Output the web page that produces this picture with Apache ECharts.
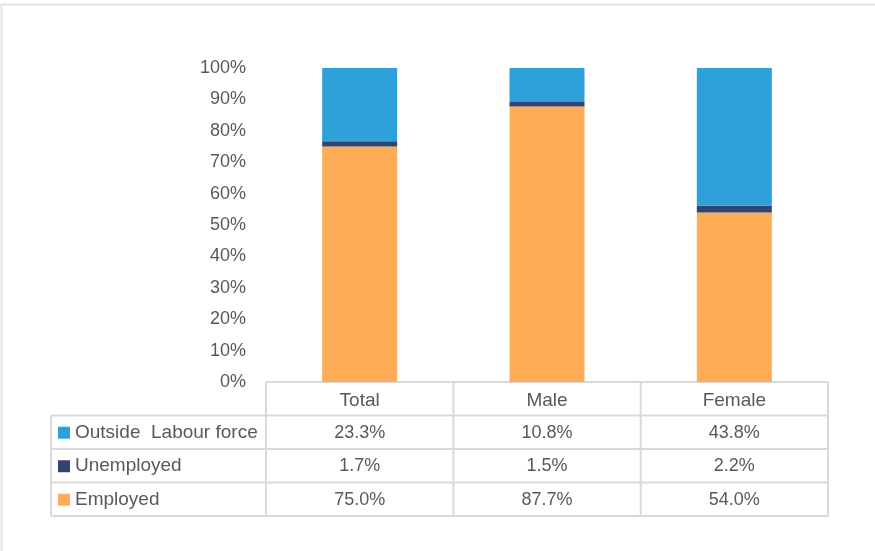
<!DOCTYPE html>
<html>
<head>
<meta charset="utf-8">
<title>Labour force status by sex</title>
<script src="https://cdn.jsdelivr.net/npm/echarts@6/dist/echarts.min.js"></script>
<style>
  html, body { margin: 0; padding: 0; background: #fff; }
  #chart { width: 875px; height: 551px; }
</style>
</head>
<body>
<div id="chart"></div>
<script>
// Categories and shares (%) for each labour force status
const categories = ['Total', 'Male', 'Female'];
const employed = [75.0, 87.7, 54.0];
const unemployed = [1.7, 1.5, 2.2];
const outsideLabourForce = [23.3, 10.8, 43.8];
const seriesNames = ['Employed', 'Unemployed', 'Outside  Labour force'];
const yTicks = [0, 10, 20, 30, 40, 50, 60, 70, 80, 90, 100];

const colors = {
  employed: '#FFAC57',
  unemployed: '#344470',
  outside: '#2FA1DA'
};
const textColor = '#595959';
const gridLine = '#D9D9D9';
const font = "'Liberation Sans', Arial, sans-serif";
const axisFontSize = 18;
const headerFontSize = 19;
const rowNameFontSize = 19;
const valueFontSize = 18;

const W = 875, H = 551;
const grid = { left: 266, right: 47, top: 68, bottom: 169 };

const chart = echarts.init(document.getElementById('chart'), null, { renderer: 'canvas' });

// Data table rows, listed top to bottom (reverse of the stacking order)
const tableRows = [
  { name: seriesNames[2], color: colors.outside, values: outsideLabourForce },
  { name: seriesNames[1], color: colors.unemployed, values: unemployed },
  { name: seriesNames[0], color: colors.employed, values: employed }
];

function buildTable() {
  const x0 = grid.left;
  const x1 = W - grid.right;
  const yTop = H - grid.bottom;
  const rowH = 33.5;
  const tableLeft = 51;
  const colW = (x1 - x0) / categories.length;
  const els = [];
  const line = (ax, ay, bx, by) => ({
    type: 'line', silent: true,
    shape: { x1: ax, y1: ay, x2: bx, y2: by },
    style: { stroke: gridLine, lineWidth: 2 }
  });
  const nRows = tableRows.length;
  const yBottom = yTop + rowH * (nRows + 1);
  // horizontal lines
  els.push(line(x0, yTop, x1, yTop));
  for (let r = 1; r <= nRows + 1; r++) {
    els.push(line(tableLeft, yTop + rowH * r, x1, yTop + rowH * r));
  }
  // vertical lines
  els.push(line(tableLeft, yTop + rowH, tableLeft, yBottom));
  for (let c = 0; c <= categories.length; c++) {
    els.push(line(x0 + colW * c, yTop, x0 + colW * c, yBottom));
  }
  // row labels with legend keys, and the values
  tableRows.forEach((row, r) => {
    const cy = yTop + rowH * (r + 1.5) + 0.5;
    els.push({
      type: 'rect', silent: true,
      shape: { x: 58, y: cy - 6, width: 12, height: 12 },
      style: { fill: row.color }
    });
    els.push({
      type: 'text', silent: true,
      style: {
        x: 75, y: cy, text: row.name, fill: textColor,
        font: rowNameFontSize + 'px ' + font, textAlign: 'left', textVerticalAlign: 'middle'
      }
    });
    row.values.forEach((v, c) => {
      els.push({
        type: 'text', silent: true,
        style: {
          x: x0 + colW * (c + 0.5), y: cy, text: v.toFixed(1) + '%', fill: textColor,
          font: valueFontSize + 'px ' + font, textAlign: 'center', textVerticalAlign: 'middle'
        }
      });
    });
  });
  // chart area frame (top and left edges)
  els.push({
    type: 'line', silent: true,
    shape: { x1: 1, y1: 4.5, x2: W, y2: 4.5 },
    style: { stroke: '#DFE3EB', lineWidth: 2 }
  });
  els.push({
    type: 'line', silent: true,
    shape: { x1: 1.5, y1: 4, x2: 1.5, y2: H },
    style: { stroke: '#DFE3EB', lineWidth: 2 }
  });
  return els;
}

const barCommon = {
  type: 'bar',
  stack: 'status',
  barWidth: 75,
  emphasis: { disabled: true }
};

chart.setOption({
  animation: false,
  backgroundColor: '#ffffff',
  grid: grid,
  xAxis: {
    type: 'category',
    data: categories,
    axisLine: { show: false },
    axisTick: { show: false },
    axisLabel: {
      color: textColor, fontFamily: font, fontSize: headerFontSize, margin: 9
    }
  },
  yAxis: {
    type: 'value',
    min: yTicks[0],
    max: yTicks[yTicks.length - 1],
    interval: yTicks[1] - yTicks[0],
    axisLine: { show: false },
    axisTick: { show: false },
    splitLine: { show: false },
    axisLabel: {
      color: textColor, fontFamily: font, fontSize: axisFontSize, margin: 20,
      padding: [2, 0, 0, 0],
      formatter: '{value}%'
    }
  },
  series: [
    Object.assign({ name: seriesNames[0], data: employed, itemStyle: { color: colors.employed } }, barCommon),
    Object.assign({ name: seriesNames[1], data: unemployed, itemStyle: { color: colors.unemployed } }, barCommon),
    Object.assign({ name: seriesNames[2], data: outsideLabourForce, itemStyle: { color: colors.outside } }, barCommon)
  ],
  graphic: buildTable()
});
</script>
</body>
</html>
